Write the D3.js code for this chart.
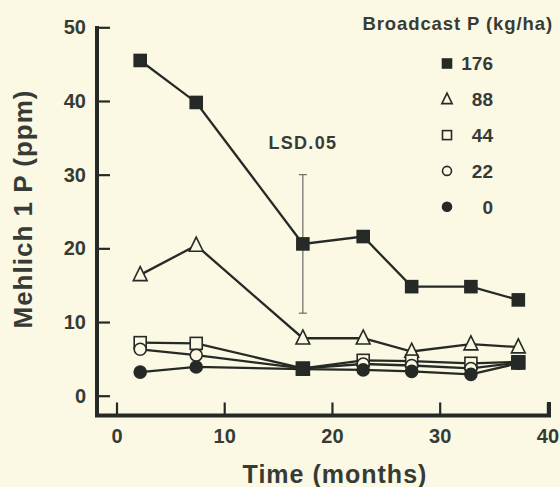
<!DOCTYPE html>
<html>
<head>
<meta charset="utf-8">
<script src="https://cdn.jsdelivr.net/npm/d3@7"></script>
<style>
  body { margin: 0; background: #fbf9e4; }
  svg { display: block; font-family: "Liberation Sans", Arial, sans-serif; }
</style>
</head>
<body>
<script>
// sampling times (months)
const months = [2.2, 7.4, 17.3, 22.9, 27.4, 32.9, 37.3]

// Mehlich 1 P (ppm) for each broadcast P rate
const rate176 = [45.5, 39.8, 20.6, 21.6, 14.8, 14.8, 13.0]
const rate88 = [16.4, 20.4, 7.8, 7.8, 6.0, 7.0, 6.6]
const rate44 = [7.2, 7.1, 3.7, 4.8, 4.7, 4.4, 4.6]
const rate22 = [6.3, 5.5, 3.7, 4.3, 4.1, 3.7, 4.5]
const rate0 = [3.2, 3.9, 3.6, 3.5, 3.3, 2.9, 4.4]

// points where the low series meet (drawn as one solid square)
const mergedAt = [2, 6]

const legendLabels = ["176", "88", "44", "22", "0"]
const xTicks = [0, 10, 20, 30, 40]
const yTicks = [0, 10, 20, 30, 40, 50]

// LSD(0.05) bar
const lsdMonth = 17.3
const lsdLow = 11.2
const lsdHigh = 30

const ink = "#262a26"
const textInk = "#363b36"

const svg = d3.select("body").append("svg")
    .attr("width", 560)
    .attr("height", 487)

const x = d3.scaleLinear().domain([0, 40]).range([116.5, 547.4])
const y = d3.scaleLinear().domain([0, 50]).range([395.7, 27.3])

const series = [
    { name: "176", values: rate176, shape: "square", fill: true },
    { name: "88", values: rate88, shape: "triangle", fill: false },
    { name: "44", values: rate44, shape: "square", fill: false },
    { name: "22", values: rate22, shape: "circle", fill: false },
    { name: "0", values: rate0, shape: "circle", fill: true }
]

// axes
const yAxis = d3.axisLeft(y).tickValues(yTicks).tickSize(-13).tickPadding(11)
const gy = svg.append("g").attr("transform", "translate(97,0)").call(yAxis)
gy.select(".domain").remove()
gy.selectAll(".tick line").attr("stroke", ink).attr("stroke-width", 2.2)
gy.selectAll(".tick text").attr("fill", textInk)
    .style("font-size", "20px").style("font-weight", "bold")

const xAxis = d3.axisBottom(x).tickValues(xTicks).tickSize(-13).tickPadding(13)
const gx = svg.append("g").attr("transform", "translate(0,415.5)").call(xAxis)
gx.select(".domain").remove()
gx.selectAll(".tick line").attr("stroke", ink).attr("stroke-width", 2.2)
gx.selectAll(".tick text").attr("fill", textInk)
    .style("font-size", "20px").style("font-weight", "bold")

svg.append("path")
    .attr("d", "M97,26V415.5H549V402")
    .attr("fill", "none")
    .attr("stroke", ink)
    .attr("stroke-width", 4)

// axis titles
svg.append("text")
    .attr("transform", "translate(32,209) rotate(-90)")
    .attr("text-anchor", "middle")
    .attr("fill", textInk)
    .style("font-size", "26px").style("font-weight", "bold")
    .style("letter-spacing", "1px")
    .text("Mehlich 1 P (ppm)")

svg.append("text")
    .attr("x", 335).attr("y", 483)
    .attr("text-anchor", "middle")
    .attr("fill", textInk)
    .style("font-size", "25px").style("font-weight", "bold")
    .style("letter-spacing", "1px")
    .text("Time (months)")

// LSD bar
const lsd = svg.append("g").attr("stroke", "#6a6d66").attr("stroke-width", 1.2)
lsd.append("line")
    .attr("x1", x(lsdMonth)).attr("x2", x(lsdMonth))
    .attr("y1", y(lsdHigh)).attr("y2", y(lsdLow))
lsd.selectAll("line.cap").data([lsdHigh, lsdLow]).enter().append("line")
    .attr("class", "cap")
    .attr("x1", x(lsdMonth) - 4).attr("x2", x(lsdMonth) + 4)
    .attr("y1", d => y(d)).attr("y2", d => y(d))

svg.append("text")
    .attr("x", x(lsdMonth)).attr("y", 149.3)
    .attr("text-anchor", "middle")
    .attr("fill", textInk)
    .style("font-size", "18px").style("font-weight", "bold")
    .style("letter-spacing", "1.3px")
    .text("LSD.05")

// lines
const line = d3.line().x((d, i) => x(months[i])).y(d => y(d))

svg.selectAll("path.series").data(series).enter().append("path")
    .attr("class", "series")
    .attr("d", d => line(d.values))
    .attr("fill", "none")
    .attr("stroke", ink)
    .attr("stroke-width", 2.3)

function drawMarker(g, shape, fill, size) {
    const h = size / 2
    let m
    if (shape == "square") {
        m = g.append("rect").attr("x", -h).attr("y", -h).attr("width", size).attr("height", size)
    } else if (shape == "circle") {
        m = g.append("circle").attr("r", h)
    } else {
        const s = size * 1.15
        m = g.append("path").attr("d", `M0,${-s * 0.6}L${s / 2},${s * 0.42}L${-s / 2},${s * 0.42}Z`)
    }
    m.attr("fill", fill ? ink : "#fbf9e4")
        .attr("stroke", ink)
        .attr("stroke-width", 1.6)
}

// markers, drawn from the top series down so the low ones sit on top
series.forEach(s => {
    s.values.forEach((v, i) => {
        const g = svg.append("g").attr("transform", `translate(${x(months[i])},${y(v)})`)
        drawMarker(g, s.shape, s.fill, 12)
    })
})

// where the low series meet, a solid square
mergedAt.forEach(i => {
    const v = d3.mean([rate44[i], rate22[i], rate0[i]])
    const g = svg.append("g").attr("transform", `translate(${x(months[i])},${y(v)})`)
    drawMarker(g, "square", true, 13)
})

// legend
svg.append("text")
    .attr("x", 553).attr("y", 30)
    .attr("text-anchor", "end")
    .attr("fill", textInk)
    .style("font-size", "18.5px").style("font-weight", "bold")
    .style("letter-spacing", "0.9px")
    .text("Broadcast P (kg/ha)")

const legend = svg.selectAll("g.legend").data(series).enter().append("g")
    .attr("class", "legend")
    .attr("transform", (d, i) => `translate(447,${63.5 + i * 35.8})`)

legend.each(function(d) {
    drawMarker(d3.select(this), d.shape, d.fill, 9)
})

legend.append("text")
    .attr("x", 46).attr("y", 0)
    .attr("dy", "0.36em")
    .attr("text-anchor", "end")
    .attr("fill", textInk)
    .style("font-size", "19px").style("font-weight", "bold")
    .text((d, i) => legendLabels[i])
</script>
</body>
</html>
